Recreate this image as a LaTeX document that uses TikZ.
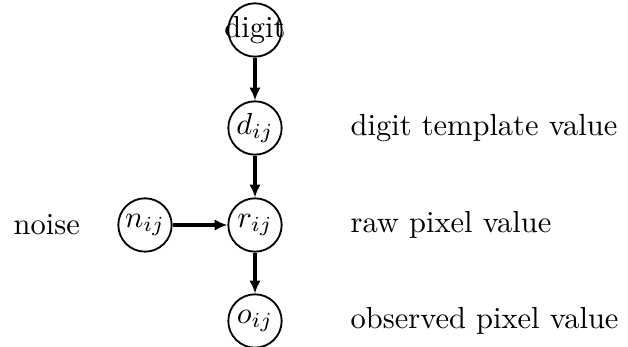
\documentclass[tikz,border=0pt]{standalone}
\usetikzlibrary{arrows.meta}
\begin{document}
\begin{tikzpicture}[x=0.328pt,y=-0.328pt,
  var/.style={circle,draw,line width=0.6pt,minimum size=17.5pt,inner sep=0pt},
  lbl/.style={anchor=west,inner sep=0pt},
  edge/.style={line width=1pt,-{Latex[length=4.2pt,width=3.8pt]}}]
\useasboundingbox (0,0) rectangle (628,347);
\node[var] (digit) at (255,30) {\makebox[15pt]{digit}};
\node[var] (d) at (255,128) {$d_{ij}$};
\node[var] (r) at (255,225) {$r_{ij}$};
\node[var] (o) at (255,321) {$o_{ij}$};
\node[var] (n) at (145,225) {$n_{ij}$};
\node[lbl] (ld) at (350,128) {digit template value};
\node[lbl] (lr) at (350,225) {raw pixel value};
\node[lbl] (lo) at (350,321) {observed pixel value};
\node[lbl] (ln) at (13,225) {noise};
\draw[edge] (digit) -- (d);
\draw[edge] (d) -- (r);
\draw[edge] (r) -- (o);
\draw[edge] (n) -- (r);
\end{tikzpicture}
\end{document}
